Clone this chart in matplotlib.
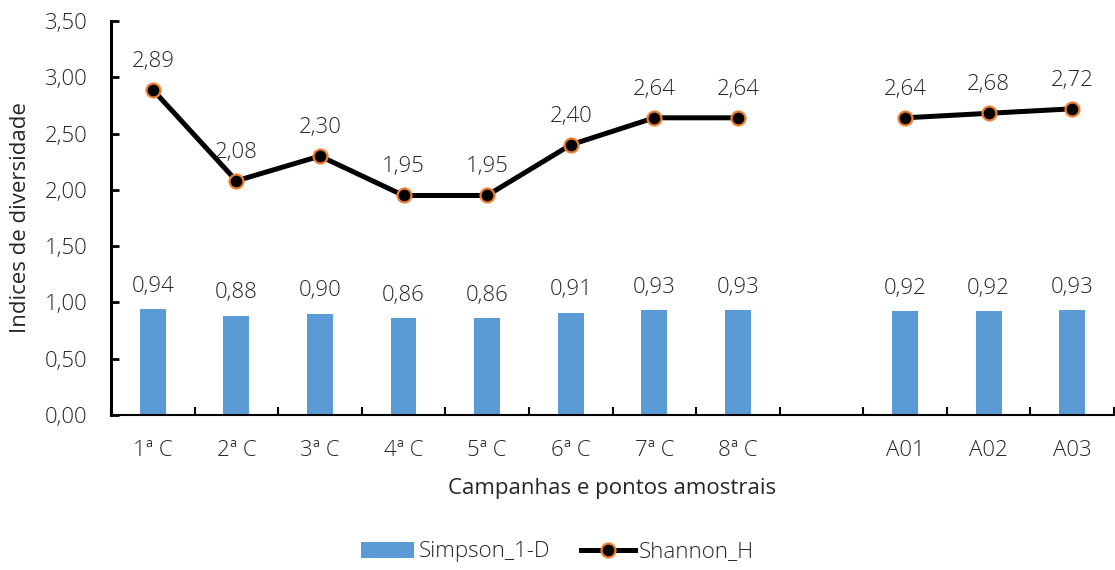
import numpy as np
import matplotlib
matplotlib.use("Agg")
import matplotlib.pyplot as plt
from matplotlib.lines import Line2D
from matplotlib.patches import Patch

plt.rcParams['font.family'] = ['Open Sans', 'DejaVu Sans']
plt.rcParams['font.weight'] = 300

categories = ["1ª C", "2ª C", "3ª C", "4ª C", "5ª C", "6ª C", "7ª C", "8ª C", "", "A01", "A02", "A03"]
simpson = [0.94, 0.88, 0.90, 0.86, 0.86, 0.91, 0.93, 0.93, np.nan, 0.92, 0.92, 0.93]
shannon = [2.89, 2.08, 2.30, 1.95, 1.95, 2.40, 2.64, 2.64, np.nan, 2.64, 2.68, 2.72]
y_ticks = [0.0, 0.5, 1.0, 1.5, 2.0, 2.5, 3.0, 3.5]

def fmt(v):
    return f"{v:.2f}".replace(".", ",")

fig = plt.figure(figsize=(11.15, 5.70), dpi=100)
ax = fig.add_axes([111/1115, 1 - 415/570, 1003/1115, 394/570])

x = np.arange(len(categories))
blue = "#5B9BD5"
orange = "#ED7D31"
txt = "#262626"
fs = 16

ax.bar(x, simpson, width=0.31, color=blue, zorder=2)
ax.plot(x, shannon, color="black", lw=3.6, marker="o", ms=10,
        mfc="black", mec=orange, mew=1.6, zorder=3, solid_capstyle="round")

for xi, v in zip(x, simpson):
    if not np.isnan(v):
        ax.annotate(fmt(v), (xi, v), xytext=(0, 9), textcoords="offset points",
                    ha="center", va="bottom", fontsize=fs, color=txt)
for xi, v in zip(x, shannon):
    if not np.isnan(v):
        ax.annotate(fmt(v), (xi, v), xytext=(0, 13), textcoords="offset points",
                    ha="center", va="bottom", fontsize=fs, color=txt)

ax.set_xlim(-0.5, len(categories) - 0.5)
ax.set_ylim(0, 3.5)
ax.set_yticks(y_ticks)
ax.set_yticklabels([fmt(t) for t in y_ticks], fontsize=fs, color=txt)
ax.set_xticks(x)
ax.set_xticklabels(categories, fontsize=fs, color=txt)
ax.set_xticks(np.arange(len(categories) + 1) - 0.5, minor=True)
ax.tick_params(axis="x", which="major", length=0, pad=18)
ax.tick_params(axis="x", which="minor", length=6, width=1.5, direction="in", color="black")
ax.tick_params(axis="y", length=6, width=2, direction="in", pad=17)

for s in ("top", "right"):
    ax.spines[s].set_visible(False)
ax.spines["left"].set_linewidth(2.2)
ax.spines["bottom"].set_linewidth(1.5)

ax.set_xlabel("Campanhas e pontos amostrais", fontsize=16, color=txt, labelpad=12)
ax.set_ylabel("Indices de diversidade", fontsize=16, color=txt, labelpad=10)

handles = [Patch(facecolor=blue, label="Simpson_1-D"),
           Line2D([0], [0], color="black", lw=3.6, marker="o", ms=10,
                  mfc="black", mec=orange, mew=1.6, label="Shannon_H")]
fig.legend(handles=handles, loc="center", bbox_to_anchor=(0.5, 1 - 552/570),
           ncol=2, frameon=False, fontsize=fs, handlelength=2.4, columnspacing=1.4,
           handletextpad=0.2, labelcolor=txt)

fig.savefig("out.png", dpi=100)
